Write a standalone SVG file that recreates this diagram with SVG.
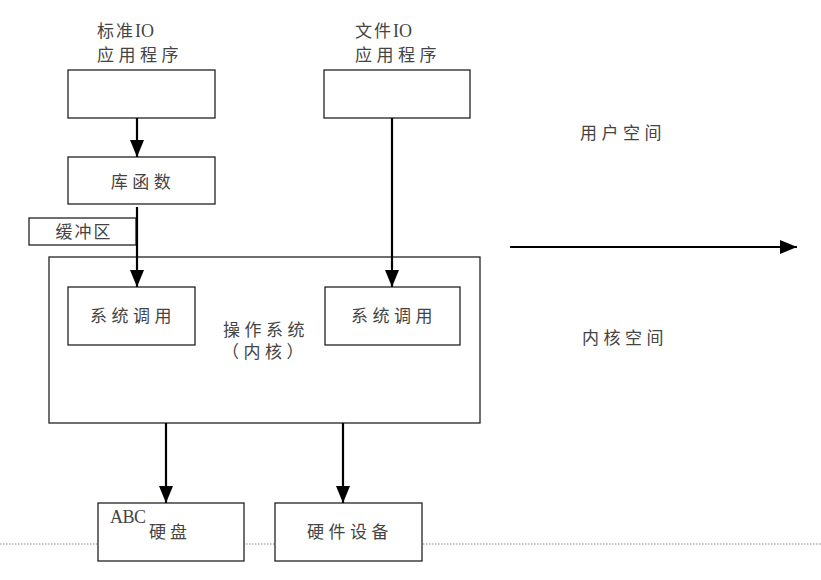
<svg xmlns="http://www.w3.org/2000/svg" width="821" height="580" viewBox="0 0 821 580">
<style>
.box{fill:#fff;stroke:#222;stroke-width:1.3}
.t{font-family:"Liberation Serif","Noto Sans CJK SC",serif;font-size:17px;fill:#444;letter-spacing:4.5px}
.c{text-anchor:middle}
.w{stroke:#000;stroke-width:2.2;fill:none}
</style>
<defs>
<marker id="ah" markerUnits="userSpaceOnUse" markerWidth="18" markerHeight="14" refX="17" refY="7" orient="auto">
<path d="M0,0 L17,7 L0,14 Z" fill="#000"/>
</marker>
</defs>
<rect width="821" height="580" fill="#fff"/>
<line x1="0" y1="544" x2="821" y2="544" stroke="#888" stroke-width="1" stroke-dasharray="1.5,1.5"/>

<g id="std-app">
<text class="t" x="97" y="37" style="letter-spacing:2px">标准<tspan style="font-size:18px;letter-spacing:0">IO</tspan></text>
<text class="t" x="97" y="61">应用程序</text>
<rect class="box" x="68" y="70" width="147" height="48"/>
</g>
<g id="file-app">
<text class="t" x="355" y="37" style="letter-spacing:2px">文件<tspan style="font-size:18px;letter-spacing:0">IO</tspan></text>
<text class="t" x="355" y="61">应用程序</text>
<rect class="box" x="324" y="70" width="146" height="48"/>
</g>
<g id="libfunc">
<rect class="box" x="68" y="157" width="147" height="47"/>
<text class="t c" x="143" y="188">库函数</text>
</g>
<g id="buffer">
<rect class="box" x="29" y="218" width="107" height="27"/>
<text class="t c" x="84" y="238" style="letter-spacing:2px">缓冲区</text>
</g>
<g id="os">
<rect class="box" x="49" y="257" width="431" height="166"/>
<text class="t c" x="266" y="336">操作系统</text>
<text class="t c" x="265" y="358">（内核）</text>
</g>
<g id="syscall-left">
<rect class="box" x="68" y="287" width="127" height="58"/>
<text class="t c" x="133" y="322">系统调用</text>
</g>
<g id="syscall-right">
<rect class="box" x="325" y="287" width="135" height="58"/>
<text class="t c" x="394" y="322">系统调用</text>
</g>
<g id="disk">
<rect class="box" x="98" y="503" width="146" height="58"/>
<text class="t" x="110" y="523" style="letter-spacing:-0.5px;font-size:18px">ABC</text>
<text class="t" x="149" y="538" style="letter-spacing:4px">硬盘</text>
</g>
<g id="device">
<rect class="box" x="275" y="503" width="147" height="58"/>
<text class="t c" x="350" y="538">硬件设备</text>
</g>
<g id="space-labels">
<text class="t" x="580" y="139">用户空间</text>
<text class="t" x="582" y="344">内核空间</text>
</g>

<g id="connectors">
<line class="w" x1="137" y1="118" x2="137" y2="157" marker-end="url(#ah)"/>
<line class="w" x1="137" y1="207" x2="137" y2="287" marker-end="url(#ah)"/>
<line class="w" x1="392" y1="118" x2="392" y2="287" marker-end="url(#ah)"/>
<line class="w" x1="166" y1="423" x2="166" y2="503" marker-end="url(#ah)"/>
<line class="w" x1="343" y1="423" x2="343" y2="503" marker-end="url(#ah)"/>
<line class="w" x1="510" y1="247" x2="797" y2="247" marker-end="url(#ah)"/>
</g>
</svg>
